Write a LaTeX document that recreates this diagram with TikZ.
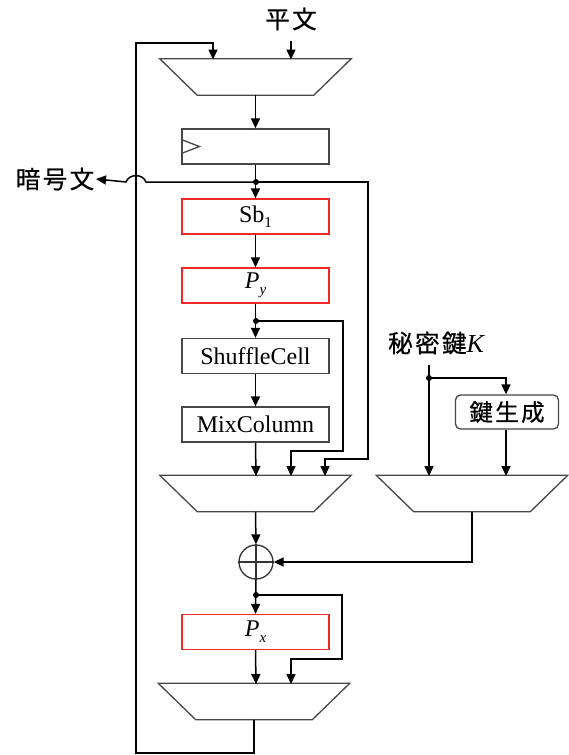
\documentclass[tikz,border=0pt]{standalone}
\usepackage{fontspec}
\setmainfont{Liberation Serif}
\newfontfamily\cjk[LetterSpace=10,FakeBold=0.6]{Noto Sans CJK JP}
\usetikzlibrary{arrows.meta,calc}
\begin{document}
\begin{tikzpicture}[x=1pt,y=-1pt,
  line width=1.5pt,
  arr/.style={-{Triangle[length=10pt,width=9pt]}},
  boxbase/.style={minimum width=147pt, minimum height=35pt, inner sep=0pt, line width=1.3pt,
    font=\fontsize{24}{26}\selectfont},
  redbox/.style={boxbase, draw={rgb,255:red,240;green,40;blue,40}},
  graybox/.style={boxbase, draw=black!72},
  mux/.style={minimum width=190pt, minimum height=35pt, inner sep=0pt},
  muxline/.style={draw=black!72, line width=1.3pt},
  dot/.style={circle, fill=black, inner sep=0pt, minimum size=6pt},
  jp/.style={font=\cjk\fontsize{24.5}{26}\selectfont, inner sep=1pt}
]
\useasboundingbox[fill=white] (0,0) rectangle (569,755);

% ---------- nodes ----------
\node[jp] (pt) at (291,19) {平文};
\node[mux] (m1) at (255.5,77) {};
\node[graybox] (reg) at (255.5,146.5) {};
\node[redbox] (sb) at (255.5,216.5) {Sb\raisebox{-4.5pt}{\fontsize{15}{15}\selectfont 1}};
\node[redbox] (py) at (255.5,285.5) {\textit{P}\raisebox{-6pt}{\fontsize{15}{15}\selectfont\textit{y}}};
\node[graybox] (sc) at (255.5,356) {ShuffleCell};
\node[graybox] (mc) at (255.5,424.5) {MixColumn};
\node[mux] (m2) at (255.5,493.5) {};
\node[circle, draw=black!80, line width=1.3pt, minimum size=34pt, inner sep=0pt] (xor) at (256,562) {};
\node[redbox] (px) at (255.5,632) {\textit{P}\raisebox{-6pt}{\fontsize{15}{15}\selectfont\textit{x}}};
\node[mux] (m3) at (254,701.5) {};
\node[mux] (mk) at (472,493.5) {};
\node[draw=black!72, line width=1.3pt, rounded corners=5pt, minimum width=103pt, minimum height=34pt,
      inner sep=0pt, font=\cjk\fontsize{23.5}{25}\selectfont] (kg) at (507,412) {鍵生成};
\node[jp, anchor=center] (key) at (436,343) {秘密鍵{\rmfamily\itshape\fontsize{26}{28}\selectfont K}};
\node[jp, anchor=east] (ct) at (96,179) {暗号文};

% ---------- mux shapes ----------
\foreach \m in {m1,m2,m3,mk}{
  \draw[muxline] (\m.north west) -- (\m.north east)
    -- ($(\m.south east)+(-37.5,0)$) -- ($(\m.south west)+(37.5,0)$) -- cycle;
}
% register clock symbol
\draw[draw=black!72, line width=1.3pt] ($(reg.west)+(0,-7)$) -- ($(reg.west)+(18,0)$) -- ($(reg.west)+(0,7)$);
% xor plus
\draw[draw=black!80, line width=1.3pt] (xor.north) -- (xor.south) (xor.west) -- (xor.east);

% ---------- coordinates ----------
\coordinate (in1a) at (213,59.5);
\coordinate (in1b) at (291,59.5);
\coordinate (in2a) at (256,476);
\coordinate (in2b) at (291,476);
\coordinate (in2c) at (325,476);
\coordinate (in3a) at (256,684);
\coordinate (in3b) at (291,684);
\coordinate (inKa) at (429,476);
\coordinate (inKb) at (506,476);
\coordinate (j1) at (256,182);
\coordinate (j2) at (256,321);
\coordinate (j3) at (256,595);
\coordinate (jk) at (429,378);
\coordinate (ks) at (429,365);
\coordinate (ptS) at (291,41);
\coordinate (fb1) at (254,753);
\coordinate (fb2) at (136,753);
\coordinate (fb3) at (136,43);
\coordinate (r1) at (368,182);
\coordinate (r2) at (368,459);
\coordinate (q1) at (343,321);
\coordinate (q2) at (343,451);
\coordinate (s1) at (342,595);
\coordinate (s2) at (342,659);
\coordinate (hR) at (146,182);
\coordinate (hL) at (126,182);

% ---------- connectors ----------
\draw[arr] (ptS) -- (in1b);
\draw[arr] (m3.south) -- (fb1) -- (fb2) -- (fb3) -| (in1a);
\draw[arr] (m1.south) -- (reg.north);
\draw[arr] (reg.south) -- (sb.north);
\draw[arr] (j1) -- (r1) -- (r2) -| (in2c);
\draw[arr] (j1) -- (hR) .. controls (143,173.5) and (129,173.5) .. (hL) -- (ct.east);
\draw[arr] (sb.south) -- (py.north);
\draw[arr] (py.south) -- (sc.north);
\draw[arr] (j2) -- (q1) -- (q2) -| (in2b);
\draw[arr] (sc.south) -- (mc.north);
\draw[arr] (mc.south) -- (in2a);
\draw[arr] (m2.south) -- (xor.north);
\draw[arr] (mk.south) |- (xor.east);
\draw[arr] (ks) -- (inKa);
\draw[arr] (jk) -| (inKb |- kg.north);
\draw[arr] (kg.south -| inKb) -- (inKb);
\draw[arr] (xor.south) -- (px.north);
\draw[arr] (j3) -- (s1) -- (s2) -| (in3b);
\draw[arr] (px.south) -- (in3a);

\node[dot] at (j1) {};
\node[dot] at (j2) {};
\node[dot] at (j3) {};
\node[dot] at (jk) {};
\end{tikzpicture}
\end{document}
